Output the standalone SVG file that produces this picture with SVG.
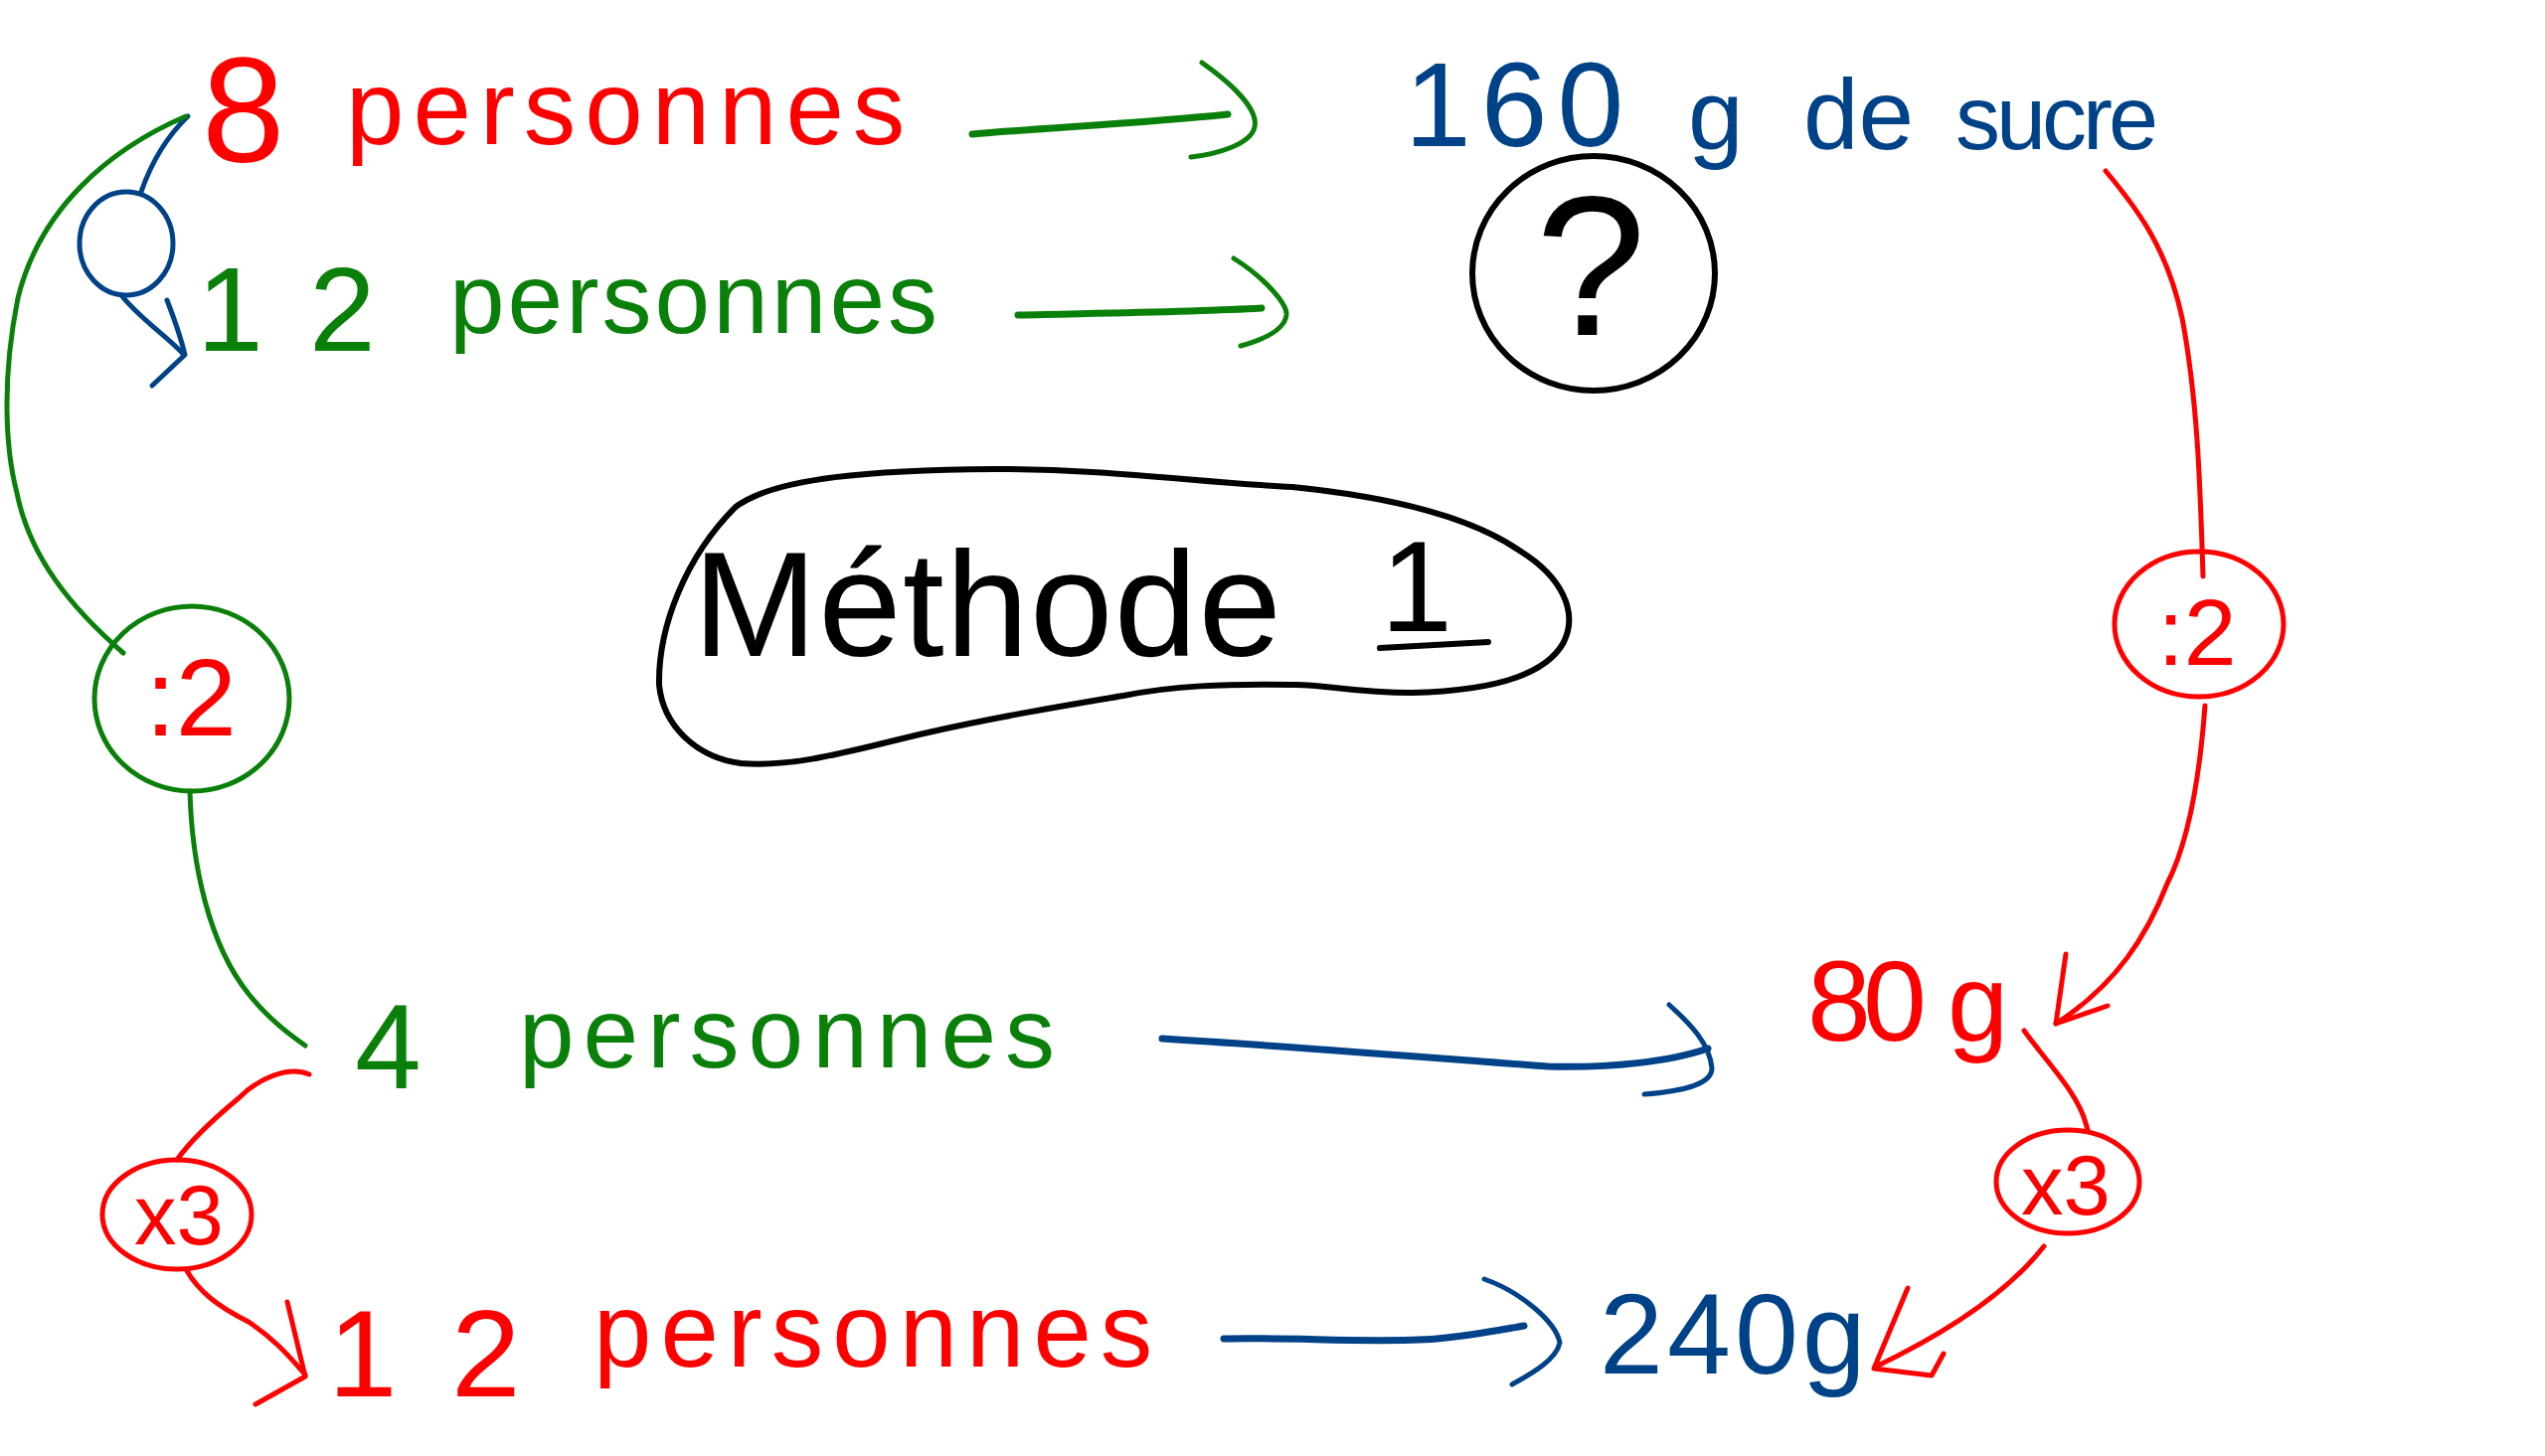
<svg xmlns="http://www.w3.org/2000/svg" width="2560" height="1465" viewBox="0 0 2560 1465">
<style>
.t{font-family:"Liberation Sans",Arial,sans-serif;}
.red{fill:#ff0000;}
.green{fill:#0a800a;}
.blue{fill:#004287;}
.black{fill:#000;}
.sr{fill:none;stroke:#ff0000;stroke-width:5;stroke-linecap:round;stroke-linejoin:round;}
.sg{fill:none;stroke:#0a800a;stroke-width:5;stroke-linecap:round;stroke-linejoin:round;}
.sb{fill:none;stroke:#004287;stroke-width:5;stroke-linecap:round;stroke-linejoin:round;}
.sk{fill:none;stroke:#000;stroke-width:6;stroke-linecap:round;stroke-linejoin:round;}
.thick{stroke-width:7;}
</style>
<rect width="2560" height="1465" fill="#fff"/>

<g id="connectors">
  <!-- green arrow 8 personnes -> 160 g -->
  <path class="sg thick" d="M978,135 C1060,128 1150,124 1235,115"/>
  <path class="sg" d="M1209,63 C1240,85 1266,110 1262,128 C1258,145 1225,155 1198,158"/>
  <!-- green arrow 12 personnes -> ? -->
  <path class="sg thick" d="M1024,317 C1110,315 1200,314 1269,310"/>
  <path class="sg" d="M1241,260 C1270,278 1295,305 1294,317 C1292,332 1270,342 1248,348"/>
  <!-- blue arrow 4 personnes -> 80 g -->
  <path class="sb thick" d="M1169,1045 C1300,1053 1450,1065 1557,1073 C1620,1075 1680,1068 1718,1055"/>
  <path class="sb" d="M1679,1011 C1700,1030 1720,1050 1722,1075 C1722,1092 1690,1098 1654,1101"/>
  <!-- blue arrow 12 personnes -> 240g -->
  <path class="sb thick" d="M1231,1347 C1300,1345 1380,1352 1445,1347 C1480,1344 1510,1338 1533,1334"/>
  <path class="sb" d="M1493,1287 C1530,1300 1565,1330 1569,1351 C1565,1370 1535,1385 1521,1393"/>
  <!-- blue loop from 8 to 12 -->
  <path class="sb" d="M189,117 C165,140 150,170 142,193"/>
  <ellipse class="sb" cx="127" cy="245" rx="47" ry="52"/>
  <path class="sb" d="M122,297 C140,320 170,340 185,357"/>
  <path class="sb" d="M168,302 C175,320 182,340 186,357 L153,388"/>
  <!-- green curve 8 -> :2 -->
  <path class="sg" d="M187,117 C110,150 40,210 18,300 C2,380 5,450 17,496 C30,560 70,610 124,657"/>
  <!-- green line :2 -> 4 personnes -->
  <path class="sg" d="M191,796 C193,870 210,950 250,1000 C270,1025 290,1040 307,1052"/>
  <!-- red curve 4 -> x3 left -->
  <path class="sr" d="M311,1081 C290,1072 260,1085 240,1105 C210,1130 190,1150 178,1167"/>
  <!-- red line x3 left -> 12 personnes -->
  <path class="sr" d="M187,1277 C200,1300 220,1315 250,1330 C280,1350 295,1370 307,1383"/>
  <path class="sr" d="M289,1310 L307,1385 L257,1413"/>
  <!-- red curve sucre -> :2 right -->
  <path class="sr" d="M2118,172 C2150,210 2180,250 2195,320 C2210,400 2213,480 2216,580"/>
  <!-- red line :2 right -> 80 g -->
  <path class="sr" d="M2218,710 C2212,790 2200,850 2180,889 C2160,940 2130,990 2068,1030"/>
  <path class="sr" d="M2078,960 L2068,1030 L2120,1012"/>
  <!-- red line 80 g -> x3 right -->
  <path class="sr" d="M2036,1037 C2060,1070 2090,1100 2098,1130 L2100,1137"/>
  <!-- red line x3 right -> 240g -->
  <path class="sr" d="M2056,1254 C2020,1300 1960,1340 1887,1375"/>
  <path class="sr" d="M1919,1296 L1885,1377 L1943,1384 L1955,1362"/>
</g>

<g id="n-8-personnes">
  <text class="t red"><tspan x="203" y="163" font-size="150">8 </tspan><tspan x="348" y="145" font-size="105" letter-spacing="9">personnes</tspan></text>
</g>

<g id="n-12-personnes">
  <text class="t green"><tspan x="198" y="353" font-size="120">1</tspan><tspan x="311" y="353" font-size="120">2 </tspan><tspan x="452" y="335" font-size="100" letter-spacing="3">personnes</tspan></text>
</g>

<g id="n-160g-sucre">
  <text class="t blue"><tspan x="1413" y="147" font-size="120" letter-spacing="10">160 </tspan><tspan x="1698" y="150" font-size="100">g </tspan><tspan x="1814" y="150" font-size="100">de </tspan><tspan x="1967" y="150" font-size="90" letter-spacing="-4">sucre</tspan></text>
</g>

<g id="n-question">
  <ellipse class="sk" cx="1603" cy="275" rx="122" ry="118"/>
  <text class="t black" x="1600" y="337" font-size="200" text-anchor="middle">?</text>
</g>

<g id="n-methode">
  <path class="sk" d="M663,689 C662,630 690,560 740,510 C780,480 880,473 1000,472 C1120,472 1200,485 1300,490 C1400,500 1480,520 1530,555 C1570,580 1588,615 1573,646 C1555,680 1500,695 1420,697 C1360,697 1330,688 1300,689 C1230,688 1180,690 1130,700 C1060,712 980,725 900,745 C840,760 790,772 745,768 C700,762 667,730 663,689 Z"/>
  <text class="t black" x="697" y="660" font-size="150" textLength="592" lengthAdjust="spacing">Méthode</text>
  <text class="t black" x="1425" y="635" font-size="130" text-anchor="middle">1</text>
  <path class="sk" d="M1388,652 L1497,646"/>
</g>

<g id="n-div2-left">
  <ellipse class="sg" cx="193" cy="703" rx="98" ry="93"/>
  <text class="t red" x="192" y="740" font-size="110" text-anchor="middle">:2</text>
</g>

<g id="n-div2-right">
  <ellipse class="sr" cx="2212" cy="628" rx="85" ry="73"/>
  <text class="t red" x="2210" y="669" font-size="95" text-anchor="middle">:2</text>
</g>

<g id="n-4-personnes">
  <text class="t green"><tspan x="357" y="1095" font-size="120">4 </tspan><tspan x="522" y="1074" font-size="100" letter-spacing="9">personnes</tspan></text>
</g>

<g id="n-80g">
  <text class="t red"><tspan x="1818" y="1047" font-size="115" letter-spacing="-8">80 </tspan><tspan x="1959" y="1047" font-size="110">g</tspan></text>
</g>

<g id="n-x3-left">
  <ellipse class="sr" cx="178" cy="1222" rx="75" ry="55"/>
  <text class="t red" x="180" y="1252" font-size="85" text-anchor="middle">x3</text>
</g>

<g id="n-x3-right">
  <ellipse class="sr" cx="2080" cy="1189" rx="72" ry="52"/>
  <text class="t red" x="2078" y="1222" font-size="85" text-anchor="middle">x3</text>
</g>

<g id="n-12-personnes-b">
  <text class="t red"><tspan x="330" y="1405" font-size="125">1</tspan><tspan x="454" y="1405" font-size="125">2 </tspan><tspan x="597" y="1375" font-size="105" letter-spacing="9">personnes</tspan></text>
</g>

<g id="n-240g">
  <text class="t blue" x="1609" y="1382" font-size="115" letter-spacing="4">240g</text>
</g>
</svg>
